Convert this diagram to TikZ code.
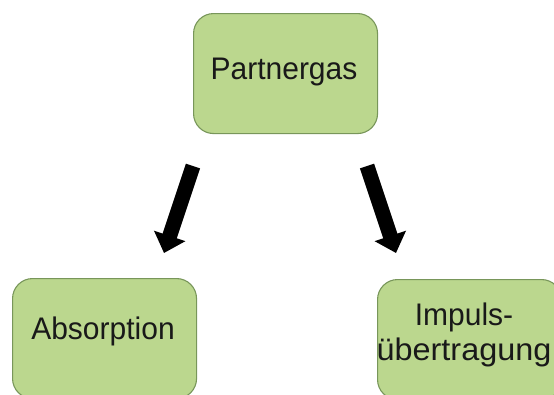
\documentclass[tikz,border=0pt]{standalone}
\usepackage{fontspec}
\setmainfont{Liberation Sans}
\usetikzlibrary{arrows.meta}
\definecolor{boxfill}{RGB}{187,215,142}
\definecolor{boxline}{RGB}{120,150,90}
\definecolor{txt}{RGB}{25,25,25}
\begin{document}
\begin{tikzpicture}[x=1pt,y=-1pt,
  greenbox/.style={draw=boxline,line width=1.1pt,fill=boxfill,rounded corners=20pt,
    minimum width=184pt,minimum height=120pt,inner sep=0pt,anchor=north west},
  lbl/.style={text=txt,font=\fontsize{30}{35}\selectfont,align=center,inner sep=0pt,yscale=1.04},
  bigarrow/.style={line width=15pt,-{Triangle[width=32pt,length=18pt]}}]
\useasboundingbox (0,0) rectangle (554,394);
\begin{scope}
\clip (0,0) rectangle (554,394);
\node[greenbox] (top) at (193,13) {};
\node[greenbox] (left) at (12,278) {};
\node[greenbox] (right) at (377,279) {};
\end{scope}
\node[lbl] (toplbl) at (284,72) {Partnergas};
\node[lbl] (leftlbl) at (103,331) {Absorption};
\node[lbl] (rightlbl) at (464,335) {Impuls-\\[-1pt]\scalebox{1.08}[1]{übertragung}};
\coordinate (a1s) at (193,166);
\coordinate (a1e) at (164,253);
\coordinate (a2s) at (367,166);
\coordinate (a2e) at (396,253);
\draw[bigarrow] (a1s) -- (a1e);
\draw[bigarrow] (a2s) -- (a2e);
\end{tikzpicture}
\end{document}
